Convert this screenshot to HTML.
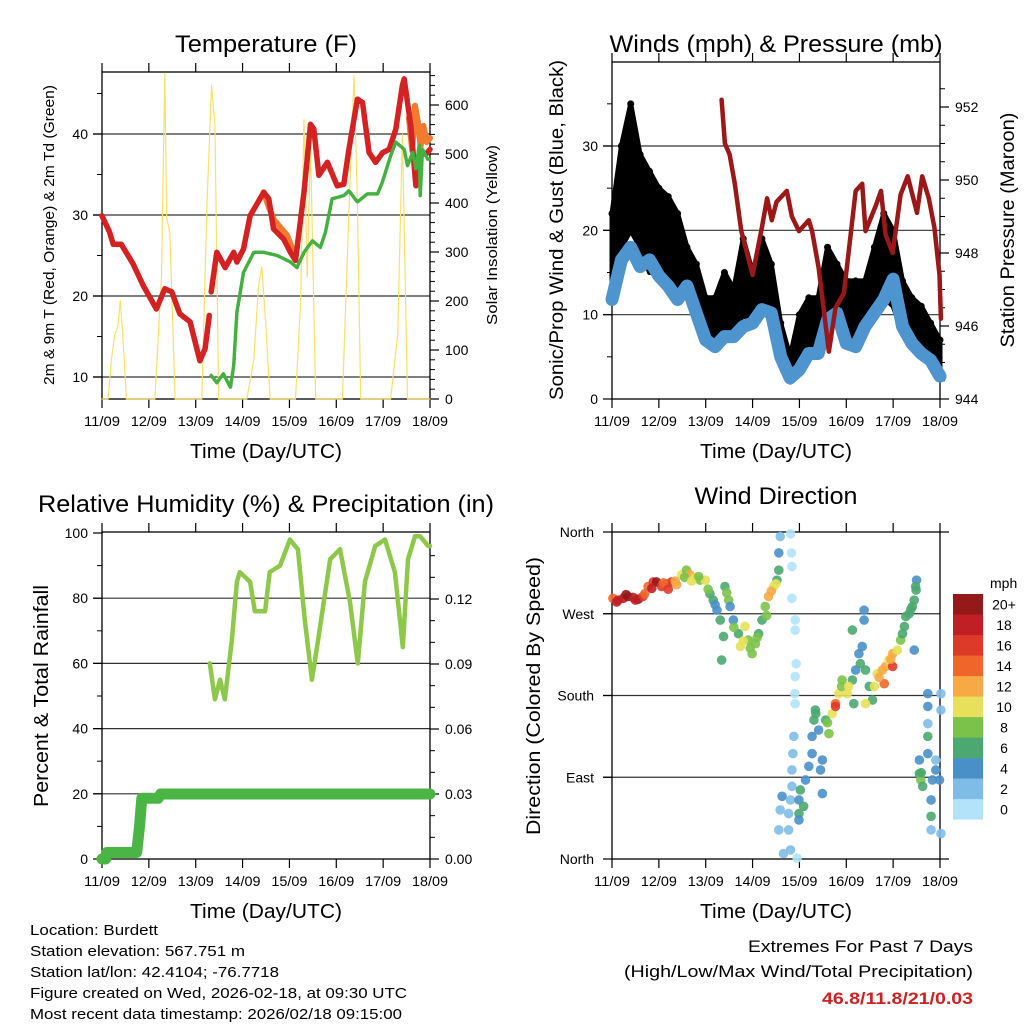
<!DOCTYPE html>
<html><head><meta charset="utf-8"><style>
html,body{margin:0;padding:0;background:#fff;width:1024px;height:1024px;overflow:hidden}
svg{display:block;font-family:"Liberation Sans",sans-serif}
</style></head><body>
<svg id="c" width="1024" height="1024" viewBox="0 0 1024 1024" xmlns="http://www.w3.org/2000/svg"></svg>
<script>
// ---- Temperature panel data (day offset from 11/09, value) ----
const tempDays=[0,0.16,0.24,0.41,0.66,0.88,1.16,1.34,1.49,1.66,1.88,2.09,2.2,2.29,2.33,2.45,2.63,2.81,2.88,3.02,3.16,3.45,3.56,3.66,3.88,4.02,4.13,4.31,4.45,4.52,4.63,4.81,5.02,5.16,5.27,5.45,5.56,5.7,5.84,5.99,6.13,6.27,6.41,6.45,6.59,6.7,6.81,6.91,7.0];
const tempVals=[29.9,27.9,26.4,26.4,24.0,21.3,18.4,20.9,20.5,17.8,16.8,12.0,13.5,17.6,20.5,25.4,23.5,25.4,24.2,25.8,29.9,32.8,32.0,28.3,27.0,25.4,24.4,32.8,41.2,40.6,34.9,36.5,33.6,33.8,38.1,44.3,43.9,37.7,36.5,37.7,38.1,40.6,46.0,46.8,41.0,33.6,37.7,37.5,38.1];
const temp9aDays=[3.45,3.56,3.66,3.8,3.95,4.05,4.15];
const temp9aVals=[32.8,31.0,29.5,28.5,27.5,26.0,25.5];
const temp9bDays=[6.55,6.62,6.68,6.74,6.8,6.86,6.93,7.0];
const temp9bVals=[42.0,38.0,43.5,41.5,38.5,41.0,39.0,39.5];
const tdDays=[2.33,2.45,2.59,2.74,2.81,2.88,3.02,3.24,3.45,3.74,4.02,4.16,4.31,4.49,4.66,4.77,4.91,5.16,5.27,5.45,5.66,5.88,5.98,6.16,6.27,6.45,6.52,6.63,6.7,6.77,6.79,6.84,6.95,7.0];
const tdVals=[10.2,9.3,10.4,8.7,11.4,18.0,22.9,25.4,25.4,25.0,24.2,23.5,25.4,26.8,26.0,27.9,32.0,32.4,33.0,31.6,32.6,32.6,34.0,37.3,39.0,38.1,36.1,37.7,35.7,38.6,32.4,38.1,36.9,36.9];
const solarDays=[0,0.13,0.2,0.27,0.34,0.39,0.45,0.52,1.13,1.27,1.34,1.38,1.45,1.56,2.13,2.24,2.34,2.41,2.49,3.09,3.24,3.34,3.41,3.49,3.59,4.13,4.24,4.31,4.38,4.45,4.56,5.13,5.27,5.38,5.45,5.52,6.16,6.31,6.41,6.52,7.0];
const solarVals=[0,0,80,130,150,200,120,0,0,250,665,370,340,0,0,400,640,560,0,0,80,230,270,160,0,0,200,570,250,520,0,0,380,660,400,0,0,130,540,0,0];
// ---- Winds panel ----
const windDays=[0,0.2,0.4,0.6,0.8,1.0,1.2,1.4,1.6,1.8,2.0,2.2,2.4,2.6,2.8,3.0,3.2,3.4,3.6,3.8,4.0,4.2,4.4,4.6,4.8,5.0,5.2,5.4,5.6,5.8,6.0,6.2,6.4,6.6,6.8,7.0];
const windVals=[11.8,16.5,18,15.7,16.5,14.6,13.4,11.8,13.4,10.2,7,6.2,7.4,7.4,8.6,9,10.6,10.2,5,2.5,3.5,5.4,5.4,9.4,10.2,6.6,6.2,8.6,10.2,11.8,14.2,8.6,6.6,5.4,4.6,2.7];
const gustHigh=[22,30,35,29,27,25,24,22,18,16,12,12,15,13,19,15,19,16,9,5,10,12,12,18,16,14,14,14,18,22,20,14,12,11,9,7];
const gustLow=[12,18,20,18,15,15,14,13,12,10,7,7,8,8,10,9,11,10,4,2,3,6,6,10,9,7,7,9,11,12,11,8,7,6,5,3];
const presDays=[2.34,2.41,2.51,2.62,2.76,3.0,3.2,3.31,3.41,3.51,3.73,3.84,3.99,4.2,4.27,4.41,4.63,4.77,4.95,5.2,5.34,5.41,5.63,5.74,5.84,5.99,6.16,6.31,6.51,6.62,6.76,6.88,6.99,7.02];
const presVals=[952.2,951.0,950.7,949.9,948.6,947.4,948.7,949.5,948.9,949.4,949.7,949.0,948.6,948.9,948.6,947.6,945.3,946.5,946.9,949.7,949.9,948.6,949.3,949.7,948.5,948.0,949.6,950.1,949.1,950.1,949.5,948.7,947.4,946.2];
// ---- RH / precip ----
const rhDays=[2.30,2.41,2.52,2.62,2.77,2.88,2.94,3.16,3.26,3.48,3.58,3.8,4.01,4.18,4.33,4.48,4.61,4.87,5.08,5.29,5.46,5.61,5.83,6.04,6.25,6.42,6.53,6.68,6.79,6.96,7.0];
const rhVals=[60,49,55,49,67,85,88,85,76,76,88,90,98,95,73,55,67,92,95,79,60,85,96,98,88,65,92,99,99,96,96];
const rainDays=[0,0.08,0.1,0.74,0.8,0.85,1.2,1.25,7.0];
const rainVals=[0,0,0.003,0.003,0.015,0.028,0.028,0.03,0.03];
// ---- Wind direction scatter ----
const dirDays=[
0.02,0.13,0.24,0.34,0.45,0.56,0.66,0.77,0.88,0.95,
1.06,1.16,1.27,1.38,1.49,1.59,1.66,1.77,1.88,1.99,
2.09,2.16,2.24,2.31,2.38,2.34,2.41,2.49,2.52,2.59,
2.7,2.74,2.84,2.91,2.99,3.06,3.13,3.2,3.27,3.34,
3.45,3.52,3.56,3.56,3.59,3.81,3.83,3.84,3.84,3.91,
3.91,3.93,3.91,3.9,3.91,3.88,3.86,3.84,3.84,3.81,
3.77,3.77,3.81,3.95,3.63,3.59,3.56,3.66,3.99,3.99,
4.02,4.13,4.2,4.27,4.27,4.31,4.34,4.41,4.49,4.56,
4.63,4.7,4.77,4.84,4.91,5.02,5.13,5.2,5.27,5.34,
5.41,5.49,5.56,5.66,5.77,5.84,5.91,5.99,6.09,6.16,
6.24,6.27,6.34,6.41,6.45,6.49,6.5,6.45,6.56,6.59,
6.63,6.56,6.74,6.74,6.74,6.74,6.74,6.81,6.81,6.84,
6.91,6.91,6.99,7.02,7.02,6.81,7.02,5.38,5.38,5.13,
5.81,5.99,4.77,5.41,5.16,4.49,4.45,3.99,4.09,0.1,
0.3,0.5,0.7,0.85,1.1,1.2,1.35,1.55,1.7,1.85,
2.05,2.2,2.45,2.6,2.8,2.95,3.1,3.3,3.4,3.5,
4.35,4.6,4.9,5.05,5.3,5.6,5.7,5.95,6.2,6.38,
6.48,6.6];
const dirVals=[
287,285,287,289,288,286,289,300,305,305,
300,303,305,302,313,318,313,309,307,307,
292,285,274,263,245,219,300,285,278,263,
248,234,256,241,226,237,248,263,278,289,
300,307,318,337,355,358,337,322,287,263,
252,215,201,182,171,135,116,98,80,65,
50,32,10,1,69,54,32,6,65,50,
76,87,102,116,135,153,164,142,109,153,
138,160,171,182,197,182,197,208,226,234,
208,190,175,204,208,212,219,226,230,241,
256,267,270,278,285,296,307,230,94,87,
80,109,182,168,149,135,116,65,47,87,
109,98,87,182,164,32,28,274,263,252,
193,212,168,171,171,72,98,43,58,283,
291,285,292,298,304,297,306,310,306,311,
297,280,293,255,240,232,244,268,295,303,
160,150,190,190,215,190,200,220,248,275,
300,95];
const dirSpeeds=[
14,18,18,20,18,20,16,14,16,20,
16,14,16,12,10,8,12,10,8,10,
6,6,4,6,6,6,6,8,4,4,
6,10,10,8,8,8,6,6,8,12,
10,6,6,4,2,0,0,0,0,0,
0,0,0,0,0,2,2,2,2,2,
2,2,2,0,4,2,2,2,4,6,
6,4,4,4,4,6,6,4,4,6,
8,10,14,10,8,10,6,4,4,4,
6,6,6,10,12,12,10,12,10,8,
6,6,6,6,6,6,4,4,6,8,
6,4,4,4,2,6,4,4,6,4,
2,4,4,2,2,2,2,4,4,6,
14,16,16,10,6,4,4,4,6,18,
20,18,14,18,14,16,12,8,10,8,
8,4,8,8,10,8,8,8,12,10,
6,8,8,10,6,10,12,12,6,6,
6,6];
const speedColors=["#b3e3f8","#80bde6","#4a90c8","#4aa870","#7bc24a","#e8e05a","#f6a944","#f0662a","#de3a2a","#c01f26","#961919"];
const speedLabels=["0","2","4","6","8","10","12","14","16","18","20+"];
const dayLabels=["11/09","12/09","13/09","14/09","15/09","16/09","17/09","18/09"];

const NS="http://www.w3.org/2000/svg";
const svg=document.getElementById('c');
function el(tag,attrs,parent,text){const e=document.createElementNS(NS,tag);for(const k in attrs)e.setAttribute(k,attrs[k]);if(text!==undefined)e.textContent=text;(parent||svg).appendChild(e);return e;}
function lin(d0,d1,r0,r1){return v=>r0+(v-d0)*(r1-r0)/(d1-d0);}

function panel(name,x0,x1,y0,y1){
  const g=el('g',{});
  
  
  return {g,x0,x1,y0,y1,x:lin(0,7,x0,x1)};
}
function frame(p,leftTicks,leftY,leftMinor,grid){
  const g=p.g;
  grid.forEach(v=>{const l=el('line',{x1:p.x0-9,x2:p.x1,y1:leftY(v),y2:leftY(v),stroke:'#333','stroke-width':1.2},g);});
  el('rect',{x:p.x0,y:p.y0,width:p.x1-p.x0,height:p.y1-p.y0,fill:'none',stroke:'#000','stroke-width':1.3},g);
  for(let i=0;i<8;i++){const xx=p.x(i);
    el('line',{x1:xx,x2:xx,y1:p.y1,y2:p.y1+9,stroke:'#000','stroke-width':1.2},g);
    el('line',{x1:xx,x2:xx,y1:p.y0,y2:p.y0-9,stroke:'#000','stroke-width':1.2},g);
    const t=el('text',{x:xx,y:p.y1+27,'font-size':14,'text-anchor':'middle',textLength:36,lengthAdjust:'spacingAndGlyphs'},g,dayLabels[i]);
    }
  leftTicks.forEach(v=>el('line',{x1:p.x0-9,x2:p.x0,y1:leftY(v),y2:leftY(v),stroke:'#000','stroke-width':1.2},g));
  (leftMinor||[]).forEach(v=>el('line',{x1:p.x0-5,x2:p.x0,y1:leftY(v),y2:leftY(v),stroke:'#000','stroke-width':1},g));
  const xt=el('text',{x:(p.x0+p.x1)/2,y:p.y1+59,'font-size':20,'text-anchor':'middle',textLength:152,lengthAdjust:'spacingAndGlyphs'},g,'Time (Day/UTC)');
  
}
function leftLabels(p,vals,y,fmt,dx){vals.forEach(v=>{const t=el('text',{x:p.x0-(dx||14),y:y(v)+5,'font-size':14,'text-anchor':'end'},p.g,fmt?fmt(v):String(v));});}
function rightAxis(p,major,minor,y,fmt){
  major.forEach(v=>{el('line',{x1:p.x1,x2:p.x1+9,y1:y(v),y2:y(v),stroke:'#000','stroke-width':1.2},p.g);
    const t=el('text',{x:p.x1+15,y:y(v)+5,'font-size':14},p.g,fmt(v));});
  minor.forEach(v=>el('line',{x1:p.x1,x2:p.x1+5,y1:y(v),y2:y(v),stroke:'#000','stroke-width':1},p.g));
}
function title(p,txt,len,y){const t=el('text',{x:(p.x0+p.x1)/2,y:y,'font-size':24,'text-anchor':'middle',textLength:len,lengthAdjust:'spacingAndGlyphs'},p.g,txt);}
function vlabel(p,txt,x,yc,size,len){const t=el('text',{x:0,y:0,'font-size':size,'text-anchor':'middle',transform:`translate(${x},${yc}) rotate(-90)`,textLength:len,lengthAdjust:'spacingAndGlyphs'},p.g,txt);}
function line(p,xs,ys,yf,color,w,name){const pts=xs.map((d,i)=>p.x(d).toFixed(1)+','+yf(ys[i]).toFixed(1)).join(' ');
  const l=el('polyline',{points:pts,fill:'none',stroke:color,'stroke-width':w,'stroke-linejoin':'round','stroke-linecap':'round'},p.g);
  return l;}

// ===== Temperature =====
{const p=panel('temperature-panel',102,430,72,399);
 const y=lin(10,40,377,134), ys=lin(0,600,399,105);
 frame(p,[10,20,30,40],y,[15,25,35,45],[10,20,30,40]);
 leftLabels(p,[10,20,30,40],y);
 const mj=[0,100,200,300,400,500,600],mn=[];for(let v=20;v<=660;v+=20)if(v%100)mn.push(v);
 rightAxis(p,mj,mn,ys,v=>String(v));
 title(p,'Temperature (F)',182,52);
 vlabel(p,'2m & 9m T (Red, Orange) & 2m Td (Green)',54,235,15,300);
 vlabel(p,'Solar Insolation (Yellow)',497,235,15,180);
 line(p,solarDays,solarVals,ys,'#f8e06a',1.2,'solar-line');
 line(p,temp9aDays,temp9aVals,y,'#f07a30',6,'temp-9m-line');
 line(p,temp9bDays,temp9bVals,y,'#f07a30',6,'temp-9m-line');
 const a=tempDays.slice(0,14),b=tempVals.slice(0,14),c=tempDays.slice(14),d=tempVals.slice(14);
 line(p,a,b,y,'#d42222',5.5,'temp-2m-line');line(p,c,d,y,'#d42222',5.5,'temp-2m-line');
 const td=line(p,tdDays,tdVals,y,'#44b040',3.5,'dewpoint-line');td.setAttribute('stroke-dasharray','3 1.5');
}
// ===== Winds =====
{const p=panel('winds-panel',612,940,62,399);
 const y=lin(0,30,399,146), yp=lin(944,952,399,107);
 frame(p,[0,10,20,30],y,[5,15,25,35],[10,20,30]);
 leftLabels(p,[0,10,20,30],y);
 const mj=[944,946,948,950,952],mn=[];for(let v=944.5;v<953;v+=0.5)if(v%2)mn.push(v);
 rightAxis(p,mj,mn,yp,v=>String(v));
 title(p,'Winds (mph) & Pressure (mb)',333,52);
 vlabel(p,'Sonic/Prop Wind & Gust (Blue, Black)',563,230,19,340);
 vlabel(p,'Station Pressure (Maroon)',1014,230,19,235);
 const up=windDays.map((d,i)=>p.x(d).toFixed(1)+','+y(gustHigh[i]).toFixed(1));
 const dn=windDays.map((d,i)=>p.x(d).toFixed(1)+','+y(gustLow[i]).toFixed(1)).reverse();
 const band=el('polygon',{points:up.concat(dn).join(' '),fill:'#000',stroke:'#000','stroke-width':5,'stroke-linejoin':'round'},p.g);
 
 windDays.forEach((d,i)=>{const c=el('circle',{cx:p.x(d),cy:y(gustHigh[i]),r:3.5,fill:'#000'},p.g);});
 line(p,windDays,windVals,y,'#4e95d0',13,'wind-speed-line');
 line(p,presDays,presVals,yp,'#9a1818',4.5,'pressure-line');
}
// ===== RH & precip =====
{const p=panel('humidity-panel',102,430,532,859);
 const y=lin(0,100,859,533), yr=lin(0,0.03,859,794);
 frame(p,[0,20,40,60,80,100],y,[10,30,50,70,90],[20,40,60,80]);
 leftLabels(p,[0,20,40,60,80,100],y);
 const mj=[0,0.03,0.06,0.09,0.12],mn=[];for(let i=1;i<15;i++)if(i%3)mn.push(i*0.01);
 rightAxis(p,mj,mn,yr,v=>v.toFixed(2));
 title(p,'Relative Humidity (%) & Precipitation (in)',456,512);
 vlabel(p,'Percent & Total Rainfall',48,696,20,222);
 line(p,rhDays,rhVals,y,'#8ec84a',4.5,'humidity-line');
 line(p,rainDays,rainVals,yr,'#4ab545',11,'rainfall-line');
}
// ===== Wind direction =====
{const p=panel('wind-direction-panel',612,940,532,859);
 const y=lin(0,360,859,532);
 frame(p,[0,90,180,270,360],y,[],[90,180,270]);
 leftLabels(p,[0,90,180,270,360],y,v=>['North','East','South','West','North'][v/90],18);
 el('line',{x1:p.x1,x2:p.x1+9,y1:532,y2:532,stroke:'#000','stroke-width':1.2},p.g);
 el('line',{x1:p.x1,x2:p.x1+9,y1:859,y2:859,stroke:'#000','stroke-width':1.2},p.g);
 title(p,'Wind Direction',163,504);
 vlabel(p,'Direction (Colored By Speed)',540,696,19,278);
 const n=Math.min(dirDays.length,dirVals.length,dirSpeeds.length);
 for(let i=0;i<n;i++){const ci=Math.max(0,Math.min(10,Math.floor(dirSpeeds[i]/2)));
   const c=el('circle',{cx:p.x(dirDays[i]),cy:y(dirVals[i]),r:4.8,fill:speedColors[ci],'fill-opacity':0.9},p.g);
   }
 const lg=el('g',{},p.g);
 el('text',{x:990,y:588,'font-size':14},lg,'mph');
 for(let i=0;i<11;i++){const yy=594+(10-i)*20.5;
   el('rect',{x:953,y:yy,width:30,height:20.6,fill:speedColors[i]},lg);
   el('text',{x:1004,y:yy+15.5,'font-size':14,'text-anchor':'middle'},lg,speedLabels[i]);}
}
// ===== Footer =====
const foot=[["Location: Burdett",128],["Station elevation: 567.751 m",215],["Station lat/lon: 42.4104; -76.7718",249],["Figure created on Wed, 2026-02-18, at 09:30 UTC",377],["Most recent data timestamp: 2026/02/18 09:15:00",372]];
foot.forEach((f,i)=>{const t=el('text',{x:30,y:935+i*21,'font-size':15,textLength:f[1],lengthAdjust:'spacingAndGlyphs'},svg,f[0]);});
const r1=el('text',{x:973,y:952,'font-size':17,'text-anchor':'end',textLength:225,lengthAdjust:'spacingAndGlyphs'},svg,'Extremes For Past 7 Days');

const r2=el('text',{x:973,y:977,'font-size':17,'text-anchor':'end',textLength:349,lengthAdjust:'spacingAndGlyphs'},svg,'(High/Low/Max Wind/Total Precipitation)');

const r3=el('text',{x:973,y:1004,'font-size':17,'font-weight':'bold',fill:'#cc2222','text-anchor':'end',textLength:151,lengthAdjust:'spacingAndGlyphs'},svg,'46.8/11.8/21/0.03');

</script>
</body></html>
